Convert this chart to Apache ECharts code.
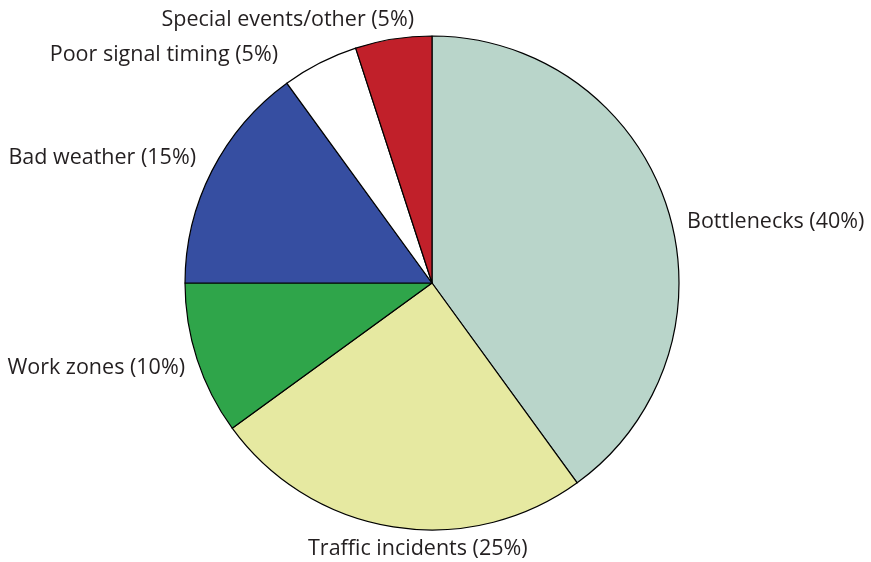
<!DOCTYPE html>
<html>
<head>
<meta charset="utf-8">
<script src="https://cdn.jsdelivr.net/npm/echarts@6/dist/echarts.min.js"></script>
<style>html,body{margin:0;padding:0;background:#fff;}#c{width:871px;height:562px;}</style>
</head>
<body>
<div id="c"></div>
<script>
const categories = ["Bottlenecks", "Traffic incidents", "Work zones", "Bad weather", "Poor signal timing", "Special events/other"];
const values = [40, 25, 10, 15, 5, 5];
const colors = ["#b9d5ca", "#e6e9a1", "#2fa54a", "#364ea1", "#ffffff", "#c1202a"];

// label placement (text anchor x, middle y, alignment) per slice
const labelPlacement = [
  {x: 687, y: 222, align: 'left'},
  {x: 308, y: 549, align: 'left'},
  {x: 185, y: 368, align: 'right'},
  {x: 196, y: 158, align: 'right'},
  {x: 278, y: 55, align: 'right'},
  {x: 414, y: 20, align: 'right'}
];

const chart = echarts.init(document.getElementById('c'), null, {renderer: 'canvas'});
chart.setOption({
  animation: false,
  backgroundColor: '#ffffff',
  series: [{
    type: 'pie',
    center: [432, 283],
    radius: [0, 247],
    startAngle: 90,
    clockwise: true,
    avoidLabelOverlap: false,
    data: categories.map((c, i) => ({name: c, value: values[i], itemStyle: {color: colors[i]}})),
    itemStyle: {borderColor: '#000', borderWidth: 1.2},
    label: {
      show: true,
      position: 'outside',
      formatter: p => p.name + ' (' + p.value + '%)',
      fontFamily: 'Open Sans',
      fontSize: 21.5,
      color: '#231f20'
    },
    labelLine: {show: false, length: 6, length2: 0},
    labelLayout: p => {
      const lp = labelPlacement[p.dataIndex];
      return {x: lp.x, y: lp.y, align: lp.align, verticalAlign: 'middle'};
    },
    emphasis: {disabled: true}
  }]
});
</script>
</body>
</html>
